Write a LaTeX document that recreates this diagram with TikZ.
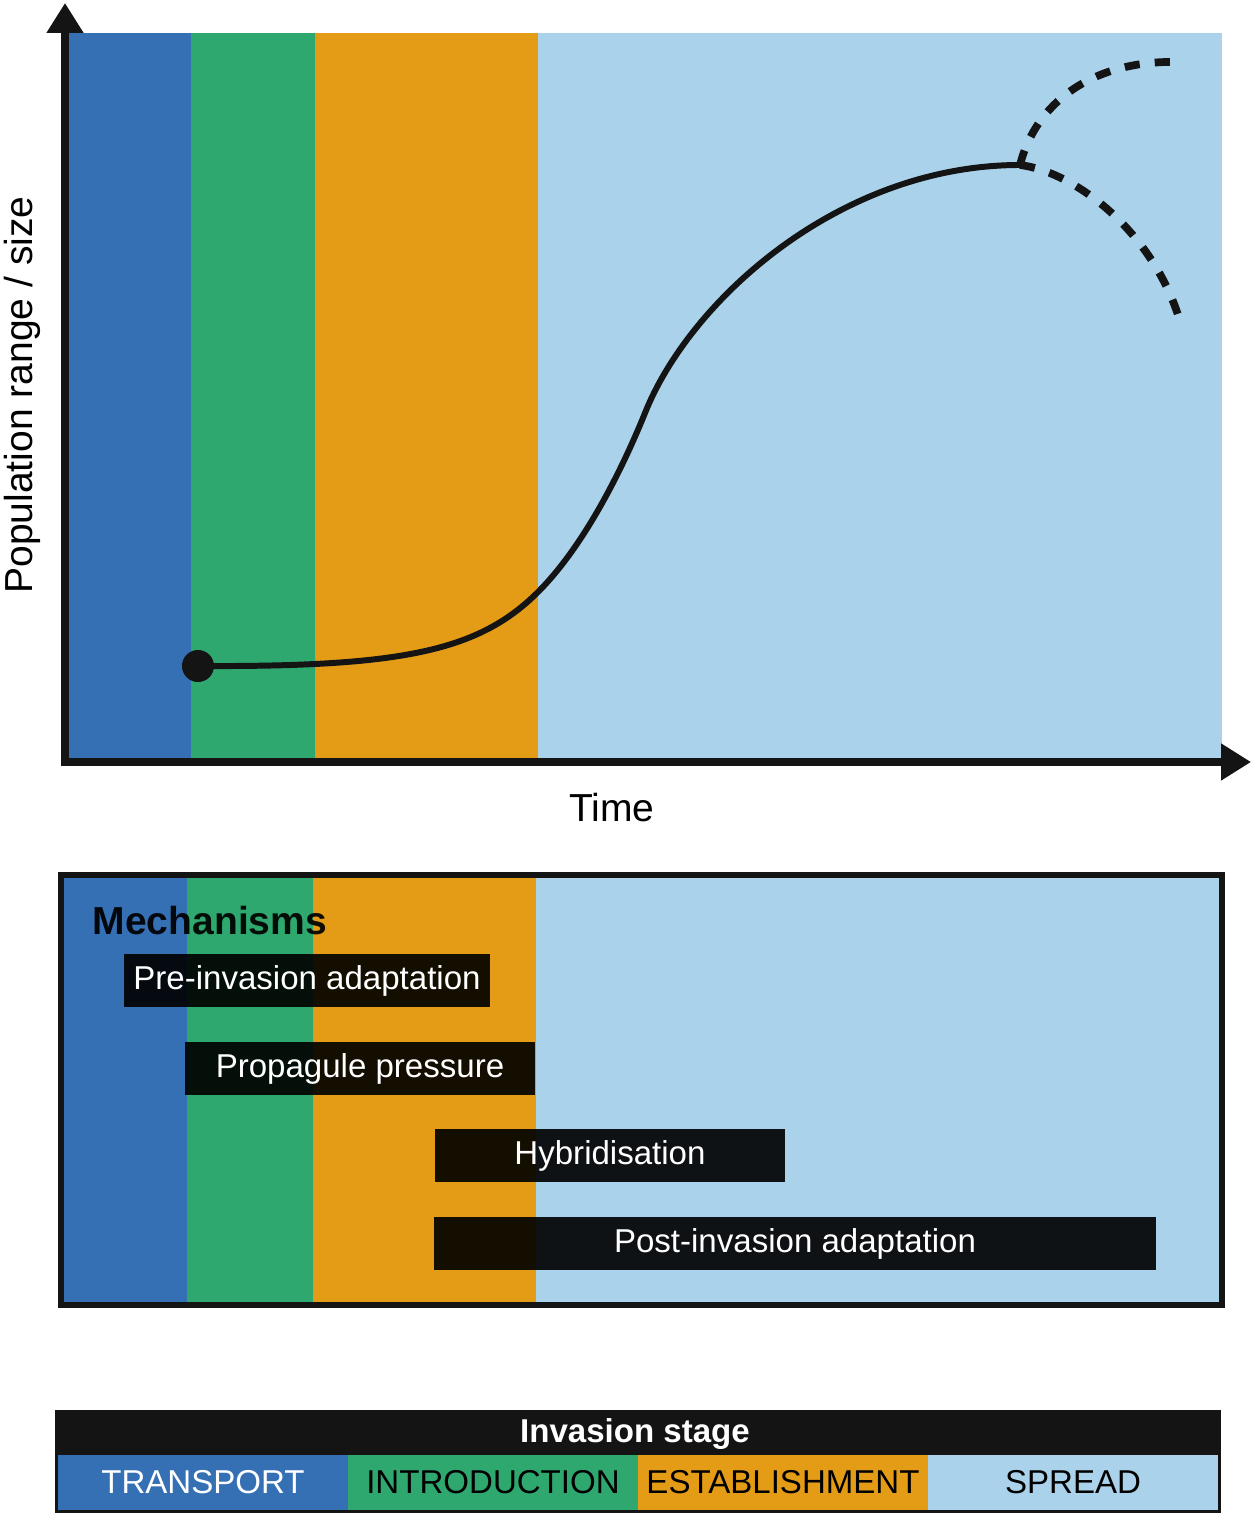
\documentclass[tikz,border=0pt]{standalone}
\usepackage{fontspec}
\setmainfont{Liberation Sans}
\usetikzlibrary{arrows.meta}
\definecolor{transportblue}{HTML}{3670B4}
\definecolor{introgreen}{HTML}{2FA870}
\definecolor{establishorange}{HTML}{E49C16}
\definecolor{spreadblue}{HTML}{AAD2EA}
\definecolor{inkblack}{HTML}{141414}
\begin{document}
\begin{tikzpicture}[x=0.01cm,y=-0.01cm,
		axis/.style={line width=2pt,draw=inkblack,{Triangle[length=8.5pt,width=10pt]}-{Triangle[length=8.5pt,width=10pt]}},
		big/.style={font=\fontsize{11.1}{13}\selectfont},
		small/.style={font=\fontsize{9.4}{11}\selectfont},
		mech/.style={small,fill=black,fill opacity=0.91,text opacity=1,text=white,minimum height=0.53cm,inner sep=0pt},
		stage/.style={small,minimum width=2.9cm,minimum height=0.55cm,inner sep=0pt}]
			\useasboundingbox (0,0) rectangle (1254,1513);
			
			\fill[transportblue] (65,33) rectangle (191,759);
			\fill[introgreen] (191,33) rectangle (315,759);
			\fill[establishorange] (315,33) rectangle (538,759);
			\fill[spreadblue] (538,33) rectangle (1222,759);
			
			\node[circle,fill=inkblack,minimum size=0.32cm,inner sep=0pt] (start) at (198,666) {};
			\coordinate (takeoff) at (538,592);
			\coordinate (inflection) at (645,413);
			\coordinate (peak) at (1020,165);
			\coordinate (rise) at (1178,62);
			\coordinate (fall) at (1178,315);
			\draw[line width=1.7pt,inkblack] (start.center) .. controls (400,667) and (478,652) .. (takeoff) .. controls (591,539) and (630,450) .. (inflection) .. controls (690,300) and (840,165) .. (peak);
			\draw[line width=2.2pt,inkblack,dash pattern=on 4.3pt off 4.3pt] (peak) .. controls (1035,105) and (1090,60) .. (rise);
			\draw[line width=2.2pt,inkblack,dash pattern=on 4.3pt off 4.3pt] (peak) .. controls (1075,172) and (1150,230) .. (fall);
			
			\coordinate (origin) at (65,762);
			\coordinate (ytip) at (65,3);
			\coordinate (xtip) at (1251,762);
			\draw[axis] (xtip) -- (origin) -- (ytip);
			\node[big,rotate=90] (ylabel) at (22,395) {Population range / size};
			\node[big] (time) at (612,808) {Time};
			
			\fill[transportblue] (61,875) rectangle (187,1305);
			\fill[introgreen] (187,875) rectangle (313,1305);
			\fill[establishorange] (313,875) rectangle (536,1305);
			\fill[spreadblue] (536,875) rectangle (1222,1305);
			\draw[line width=1.7pt,inkblack] (61,875) rectangle (1222,1305);
			\node[big,anchor=base west,inner sep=0pt,text opacity=0.92] (mechanisms) at (92,934) {\bfseries Mechanisms};
			\node[mech,minimum width=3.66cm] (preinvasion) at (307,980.5) {Pre-invasion adaptation};
			\node[mech,minimum width=3.50cm] (propagule) at (360,1068.5) {Propagule pressure};
			\node[mech,minimum width=3.50cm] (hybrid) at (610,1155.5) {Hybridisation};
			\node[mech,minimum width=7.22cm] (postinvasion) at (795,1243.5) {Post-invasion adaptation};
			
			\fill[inkblack] (55,1410) rectangle (1221,1513);
			\node[small,text=white,anchor=base] (stagehead) at (635,1442) {\bfseries Invasion stage};
			\node[stage,fill=transportblue,text=white] (transport) at (203,1482.5) {TRANSPORT};
			\node[stage,fill=introgreen] (introduction) at (493,1482.5) {INTRODUCTION};
			\node[stage,fill=establishorange] (establishment) at (783,1482.5) {ESTABLISHMENT};
			\node[stage,fill=spreadblue] (spread) at (1073,1482.5) {SPREAD};
		\end{tikzpicture}
\end{document}
